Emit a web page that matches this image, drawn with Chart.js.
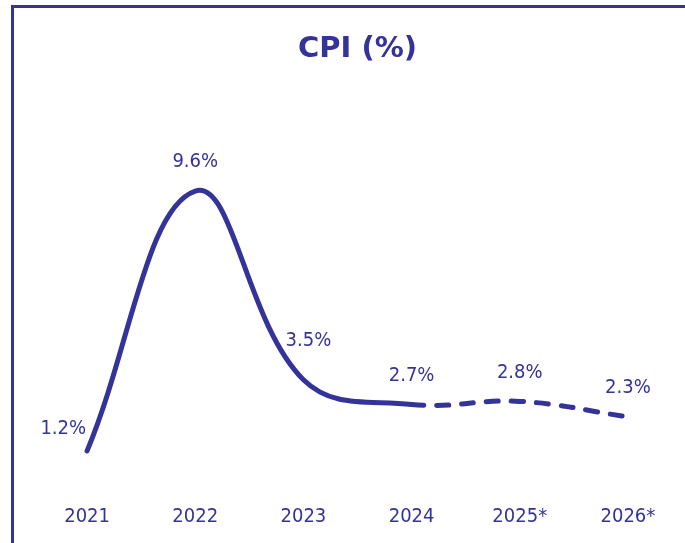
<!DOCTYPE html>
<html>
<head>
<meta charset="utf-8">
<script src="https://cdn.jsdelivr.net/npm/chart.js@4"></script>
<style>
  html, body { margin: 0; padding: 0; background: #fff; }
  #wrap { position: relative; width: 685px; height: 543px; overflow: hidden; }
  #frame { position: absolute; left: 11px; top: 5px; width: 800px; height: 700px;
           border: 3px solid #333399; box-sizing: border-box; }
  #cpiChart { position: absolute; left: 0; top: 0; }
</style>
</head>
<body>
<div id="wrap">
  <div id="frame"></div>
  <canvas id="cpiChart" width="685" height="543"></canvas>
</div>
<script>
const years = ['2021', '2022', '2023', '2024', '2025*', '2026*'];
const cpiValues = [1.2, 9.6, 3.5, 2.7, 2.8, 2.3];
const lastActual = 3; // after 2024 the line is a forecast (dashed)

const navy = '#333399';
const labelFont = '"DejaVu Sans Condensed", "DejaVu Sans", sans-serif';

// value labels above each point
const valueLabels = {
  id: 'valueLabels',
  afterDatasetsDraw(chart) {
    const ctx = chart.ctx;
    const meta = chart.getDatasetMeta(0);
    ctx.save();
    ctx.font = '20px ' + labelFont;
    ctx.fillStyle = navy;
    ctx.textBaseline = 'middle';
    meta.data.forEach((pt, i) => {
      let dx = 0, dy = -29, align = 'center';
      if (i === 0) { dx = -1; dy = -22; align = 'right'; }
      if (i === 2) { dx = 5; dy = -39; }
      ctx.textAlign = align;
      ctx.fillText(cpiValues[i].toFixed(1) + '%', pt.x + dx, pt.y + dy);
    });
    ctx.restore();
  }
};

new Chart(document.getElementById('cpiChart'), {
  type: 'line',
  data: {
    labels: years,
    datasets: [{
      data: cpiValues,
      borderColor: navy,
      borderWidth: 5,
      borderCapStyle: 'round',
      borderJoinStyle: 'round',
      tension: 0.4,
      pointRadius: 0,
      fill: false,
      segment: {
        borderDash: c => c.p0DataIndex >= lastActual ? [12, 13] : undefined
      }
    }]
  },
  options: {
    responsive: false,
    animation: false,
    layout: { padding: { left: 33, right: 3, top: 0, bottom: 0 } },
    scales: {
      x: {
        offset: true,
        grid: { display: false },
        border: { display: false },
        ticks: { color: navy, padding: 9, font: { family: labelFont, size: 20 } },
        afterFit: s => { s.height = 55; }
      },
      y: { display: false, min: 0, max: 12 }
    },
    plugins: {
      legend: { display: false },
      tooltip: { enabled: false },
      title: {
        display: true,
        text: 'CPI (%)',
        color: navy,
        font: { family: 'DejaVu Sans', size: 29, weight: 'bold' },
        padding: { top: 32, bottom: 50 }
      }
    }
  },
  plugins: [valueLabels]
});
</script>
</body>
</html>
